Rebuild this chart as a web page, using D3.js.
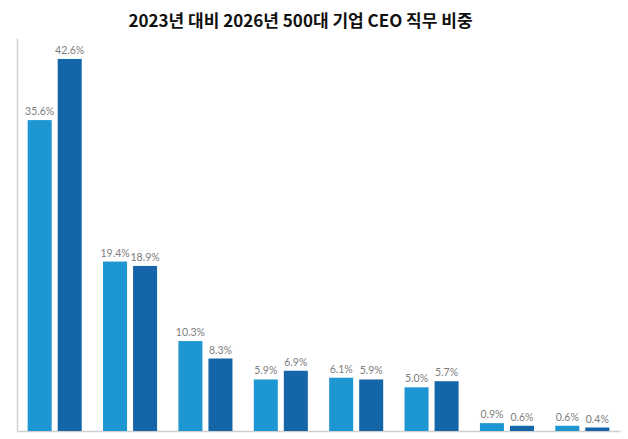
<!DOCTYPE html>
<html>
<head>
<meta charset="utf-8">
<script src="https://cdn.jsdelivr.net/npm/d3@7"></script>
<style>
  body { margin: 0; background: #fff; }
  svg { display: block; }
</style>
</head>
<body>
<svg id="root"></svg>
<script>
// 직무 카테고리 (원본 그림에는 라벨 없음)
const categories = ["직무1", "직무2", "직무3", "직무4", "직무5", "직무6", "직무7", "직무8"]
const seriesNames = ["2023", "2026"]
const values2023 = [35.6, 19.4, 10.3, 5.9, 6.1, 5.0, 0.9, 0.6]
const values2026 = [42.6, 18.9, 8.3, 6.9, 5.9, 5.7, 0.6, 0.4]
const seriesColors = ["#1e96d2", "#1565a9"]

const width = 628, height = 439

const svg = d3.select("#root")
  .attr("width", width)
  .attr("height", height)

// Title
svg.append("text")
  .attr("x", 300.5)
  .attr("y", 27)
  .attr("text-anchor", "middle")
  .attr("font-family", "'Noto Sans CJK KR', 'Noto Sans', sans-serif")
  .attr("font-weight", "bold")
  .attr("font-size", 17)
  .attr("fill", "#111")
  .text("2023년 대비 2026년 500대 기업 CEO 직무 비중")

const data = categories.map((c, i) => ({
  cat: c,
  vals: [values2023[i], values2026[i]]
}))

const x0 = d3.scaleBand()
  .domain(categories)
  .range([17, 620])
  .paddingInner(0.283)
  .paddingOuter(0.1415)

const x1 = d3.scaleBand()
  .domain(seriesNames)
  .range([0, x0.bandwidth()])
  .paddingInner(0.2)

const y = d3.scaleLinear([0, 45], [431, 38])

// Axes (just lines, no ticks)
const xAxis = d3.axisBottom(x0).tickSize(0).tickFormat("")
const yAxis = d3.axisLeft(y).tickSize(0).tickValues([])

const gx = svg.append("g")
  .attr("transform", `translate(0,${y(0)})`)
  .call(xAxis)
gx.select(".domain").attr("stroke", "#cfcfcf").attr("stroke-width", 1.5)

const gy = svg.append("g")
  .attr("transform", "translate(17,0)")
  .call(yAxis)
gy.select(".domain").attr("stroke", "#d4d4d4").attr("stroke-width", 1.5)

// Bars
const groups = svg.append("g")
  .selectAll("g")
  .data(data)
  .join("g")
  .attr("transform", d => `translate(${x0(d.cat)},0)`)

const items = d => d.vals.map((v, j) => ({ key: seriesNames[j], v: v, j: j }))

groups.selectAll("rect")
  .data(items)
  .join("rect")
  .attr("x", d => x1(d.key))
  .attr("y", d => y(d.v))
  .attr("width", x1.bandwidth())
  .attr("height", d => y(0) - y(d.v))
  .attr("fill", d => seriesColors[d.j])

groups.selectAll("text")
  .data(items)
  .join("text")
  .attr("x", d => x1(d.key) + x1.bandwidth() / 2)
  .attr("y", d => y(d.v) - 5)
  .attr("text-anchor", "middle")
  .attr("font-family", "Lato, 'Noto Sans', sans-serif")
  .attr("font-size", 10.5)
  .attr("fill", "#7d7d7d")
  .text(d => d.v.toFixed(1) + "%")
</script>
</body>
</html>
